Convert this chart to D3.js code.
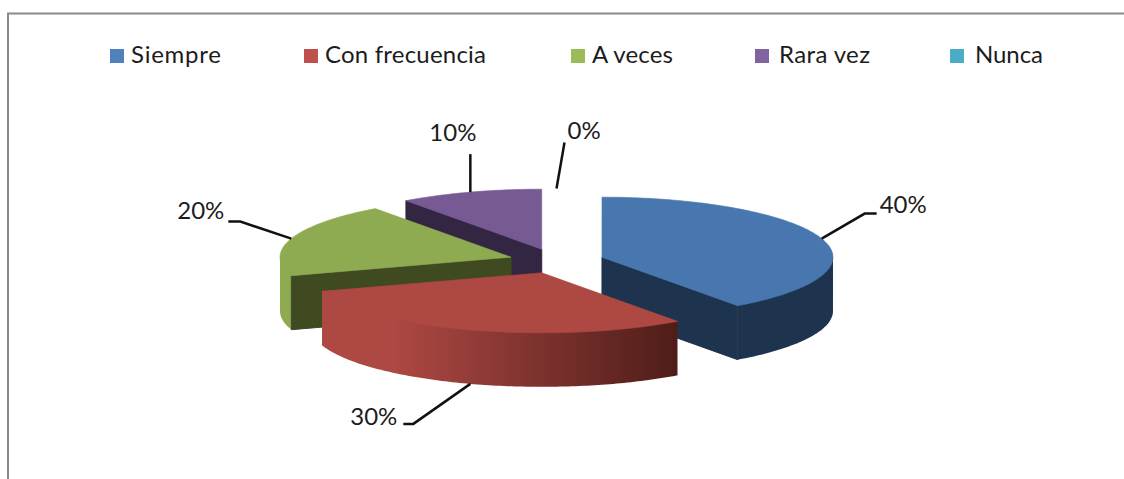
<!DOCTYPE html>
<html>
<head>
<meta charset="utf-8">
<script src="https://cdn.jsdelivr.net/npm/d3@7"></script>
<style>
html, body { margin: 0; padding: 0; background: #fff; }
svg { display: block; }
text { font-family: Lato, "Open Sans", sans-serif; fill: #1c1c1c; }
</style>
</head>
<body>
<script>
// data
const categories = ["Siempre", "Con frecuencia", "A veces", "Rara vez", "Nunca"];
const values = [40, 30, 20, 10, 0];
const pctLabels = ["40%", "30%", "20%", "10%", "0%"];

// colours
const legendColors = ["#4f81bd", "#c0504d", "#9bbb59", "#8064a2", "#4bacc6"];
const topColors = ["#4777ae", "#ad4843", "#8fab52", "#775a94", "#4bacc6"];
const cutColors = ["#1e334e", "#4f1d19", "#404a20", "#332642", "#1f5563"];

const width = 1124, height = 479;
const cx = 556.5, cy = 261, rx = 231, ry = 60, depth = 54, explode = 0.207;

// layout of legend and leader lines
const legendSquareX = [110, 304, 571, 755, 950];
const legendTextX = [131, 325, 592, 779, 975];
const legendTextW = [90, 161, 81, 91, 68];
const leaderElbows = [
    [[43, -25], [55, -25]],
    [[-57, 40], [-67, 40]],
    [[-51, -17], [-63, -17]],
    [[0, -38]],
    [[8, -46]]
];
const labelPos = [[58, -32], [-73, 35], [-67, -26], [-41, -57], [11, -56]];

const svg = d3.select('body').append('svg')
    .attr('width', width)
    .attr('height', height);

const defs = svg.append('defs');
const redGrad = defs.append('linearGradient')
    .attr('id', 'redSide')
    .attr('gradientUnits', 'userSpaceOnUse')
    .attr('x1', 323).attr('x2', 677).attr('y1', 0).attr('y2', 0);
redGrad.append('stop').attr('offset', 0.2).attr('stop-color', '#ad4843');
redGrad.append('stop').attr('offset', 1).attr('stop-color', '#4f1d19');

// frame
svg.append('path')
    .attr('d', `M8,${height}V13.5H${width}`)
    .attr('fill', 'none')
    .attr('stroke', '#8a8a8a')
    .attr('stroke-width', 2);

// legend
const legend = svg.append('g');
categories.forEach((c, i) => {
    legend.append('rect')
        .attr('x', legendSquareX[i]).attr('y', 49)
        .attr('width', 14).attr('height', 14)
        .attr('fill', legendColors[i]);
    legend.append('text')
        .attr('x', legendTextX[i]).attr('y', 63)
        .attr('font-size', 24)
        .attr('textLength', legendTextW[i])
        .text(c);
});

// pie angles, clockwise from 12 o'clock
const slices = d3.pie().sort(null).value(d => d)(values);

const xUnit = d3.scaleLinear().domain([-1, 1]).range([cx - rx, cx + rx]);
const yUnit = d3.scaleLinear().domain([-1, 1]).range([cy - ry, cy + ry]);

function slicePoint(s, a, r, drop) {
    const mid = (s.startAngle + s.endAngle) / 2;
    const ux = explode * Math.sin(mid) + r * Math.sin(a);
    const uy = -explode * Math.cos(mid) - r * Math.cos(a);
    return [xUnit(ux), yUnit(uy) + drop];
}

function arcPoints(s, a0, a1, drop, r = 1) {
    const n = Math.max(2, Math.ceil((a1 - a0) * 60));
    return d3.range(n + 1).map(i => slicePoint(s, a0 + (a1 - a0) * i / n, r, drop));
}

const line = d3.line();

function drawSlice(g, s) {
    const i = s.index;
    const a0 = s.startAngle, a1 = s.endAngle;
    if (a1 - a0 <= 0) return;

    // outer wall, only the front half of the ellipse. Its upper edge runs
    // slightly inside the top face so no seam shows
    const w0 = Math.max(a0, Math.PI / 2), w1 = Math.min(a1, 3 * Math.PI / 2);
    if (w1 > w0) {
        const pts = [slicePoint(s, w0, 1, 0)]
            .concat(arcPoints(s, w0, w1, 0, 0.96))
            .concat([slicePoint(s, w1, 1, 0)])
            .concat(arcPoints(s, w0, w1, depth).reverse());
        const wallFill = i === 1 ? 'url(#redSide)' : i === 2 ? topColors[2] : cutColors[i];
        g.append('path').attr('d', line(pts) + 'Z').attr('fill', wallFill);
    }

    // cut faces that look toward the viewer, with a hairline to close the seam
    const cutAngles = [];
    if (a0 > Math.PI && a0 < 2 * Math.PI) cutAngles.push(a0);
    if (a1 > 0 && a1 < Math.PI) cutAngles.push(a1);
    cutAngles.forEach(a => {
        const pts = [
            slicePoint(s, 0, 0, 0), slicePoint(s, a, 1, 0),
            slicePoint(s, a, 1, depth), slicePoint(s, 0, 0, depth)
        ];
        g.append('path').attr('d', line(pts) + 'Z')
            .attr('fill', cutColors[i])
            .attr('stroke', cutColors[i])
            .attr('stroke-width', 1);
    });

    // top face
    const top = [slicePoint(s, 0, 0, 0)].concat(arcPoints(s, a0, a1, 0));
    g.append('path').attr('d', line(top) + 'Z')
        .attr('fill', topColors[i])
        .attr('stroke', topColors[i])
        .attr('stroke-width', 0.6);
}

// back slices first
const pieG = svg.append('g');
[3, 2, 0, 1].forEach(i => drawSlice(pieG, slices[i]));

// leader lines and percent labels
slices.forEach((s, i) => {
    const mid = (s.startAngle + s.endAngle) / 2;
    // the red one leaves from the bottom rim of its wall
    const start = slicePoint(s, mid, 1, i === 1 ? depth : 0);
    const pts = [start].concat(leaderElbows[i].map(e => [start[0] + e[0], start[1] + e[1]]));
    svg.append('path')
        .attr('d', line(pts))
        .attr('fill', 'none')
        .attr('stroke', '#111')
        .attr('stroke-width', 2.5);
    svg.append('text')
        .attr('x', start[0] + labelPos[i][0])
        .attr('y', start[1] + labelPos[i][1])
        .attr('font-size', 24)
        .attr('dominant-baseline', 'middle')
        .attr('text-anchor', i === 1 || i === 2 ? 'end' : 'start')
        .text(pctLabels[i]);
});
</script>
</body>
</html>
